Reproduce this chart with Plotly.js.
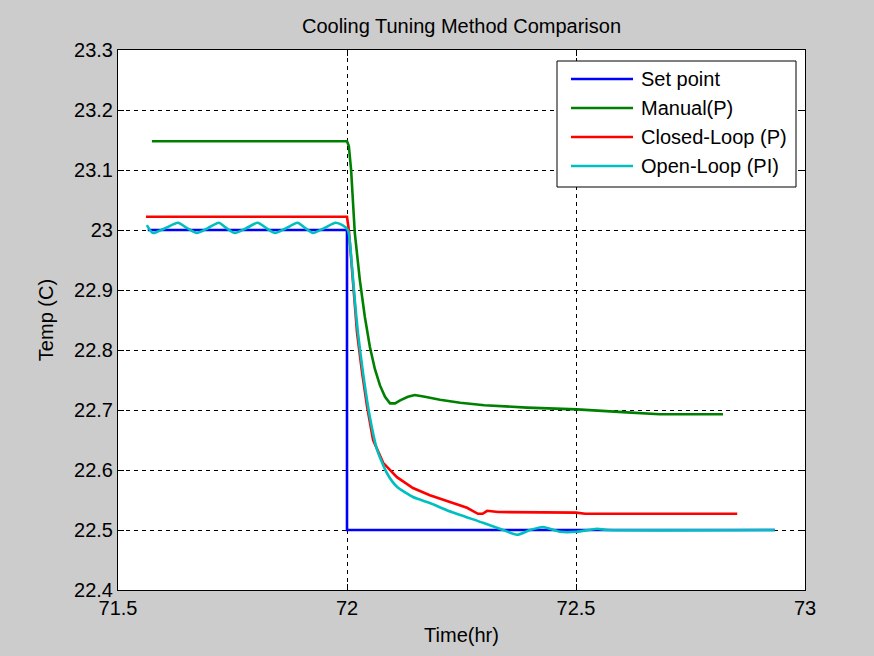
<!DOCTYPE html>
<html>
<head>
<meta charset="utf-8">
<script src="https://cdn.plot.ly/plotly-3.0.1.min.js"></script>
<style>html,body{margin:0;padding:0;background:#cccccc;}#chart{width:874px;height:656px;}</style>
</head>
<body>
<div id="chart"></div>
<script>
// ---- data ----
const seriesNames = ["Set point", "Manual(P)", "Closed-Loop (P)", "Open-Loop (PI)"];
const seriesColors = ["#0000ff", "#008000", "#ff0000", "#00bfbf"];

const setX = [71.565, 72.0, 72.0, 72.934];
const setY = [23.0, 23.0, 22.5, 22.5];

const manX = [71.574, 72.0, 72.004, 72.009, 72.017, 72.028, 72.039, 72.05, 72.061, 72.072, 72.083, 72.094, 72.105, 72.116, 72.133, 72.148, 72.17, 72.203, 72.247, 72.3, 72.393, 72.502, 72.611, 72.683, 72.821];
const manY = [23.148, 23.148, 23.14, 23.1, 22.995, 22.917, 22.855, 22.805, 22.768, 22.741, 22.722, 22.711, 22.711, 22.716, 22.722, 22.725, 22.722, 22.717, 22.712, 22.708, 22.704, 22.701, 22.696, 22.693, 22.693];

const clX = [71.561, 72.0, 72.004, 72.013, 72.022, 72.033, 72.044, 72.057, 72.079, 72.109, 72.144, 72.181, 72.225, 72.262, 72.286, 72.296, 72.306, 72.33, 72.5, 72.52, 72.852];
const clY = [23.022, 23.022, 23.0, 22.912, 22.828, 22.762, 22.705, 22.65, 22.612, 22.588, 22.57, 22.558, 22.547, 22.537, 22.527, 22.527, 22.532, 22.53, 22.529, 22.527, 22.527];

const olX = [71.563, 71.576, 71.603, 71.631, 71.651, 71.672, 71.696, 71.72, 71.737, 71.755, 71.78, 71.805, 71.824, 71.843, 71.867, 71.892, 71.909, 71.926, 71.95, 71.975, 71.99, 72.002, 72.011, 72.017, 72.024, 72.035, 72.05, 72.066, 72.087, 72.109, 72.144, 72.181, 72.218, 72.297, 72.341, 72.371, 72.4, 72.428, 72.465, 72.502, 72.546, 72.57, 72.934];
const olY = [23.008, 22.995, 23.003, 23.012, 23.003, 22.995, 23.003, 23.012, 23.003, 22.995, 23.003, 23.012, 23.003, 22.995, 23.003, 23.012, 23.003, 22.995, 23.003, 23.012, 23.008, 23.0, 22.938, 22.883, 22.828, 22.762, 22.688, 22.633, 22.595, 22.572, 22.555, 22.545, 22.533, 22.512, 22.5, 22.492, 22.5, 22.505, 22.497, 22.497, 22.502, 22.5, 22.5];

const xTickVals = [71.5, 72, 72.5, 73];
const xTickText = ["71.5", "72", "72.5", "73"];
const yTickVals = [22.4, 22.5, 22.6, 22.7, 22.8, 22.9, 23.0, 23.1, 23.2, 23.3];
const yTickText = ["22.4", "22.5", "22.6", "22.7", "22.8", "22.9", "23", "23.1", "23.2", "23.3"];

const xs = [setX, manX, clX, olX];
const ys = [setY, manY, clY, olY];

const FONT = "Liberation Sans, Arial, sans-serif";

const traces = xs.map((x, i) => ({
  x: x, y: ys[i], type: "scatter", mode: "lines", name: seriesNames[i],
  line: {color: seriesColors[i], width: 2.6, shape: i === 3 ? "spline" : "linear", smoothing: 0.6},
  showlegend: false, hoverinfo: "skip"
}));

// custom legend (MATLAB style box) in paper coordinates
const L = 118, R = 805, T = 50, B = 590;
const px = v => (v - L) / (R - L);
const py = v => (B - v) / (B - T);
const shapes = [{type: "rect", xref: "paper", yref: "paper", x0: px(557), x1: px(796), y0: py(187), y1: py(61),
  line: {color: "#000", width: 1}, fillcolor: "#ffffff", layer: "above"}];
const annotations = [];
const rowY = [79, 108, 137, 166];
seriesNames.forEach((n, i) => {
  shapes.push({type: "line", xref: "paper", yref: "paper", x0: px(571), x1: px(633), y0: py(rowY[i]), y1: py(rowY[i]),
    line: {color: seriesColors[i], width: 2.6}, layer: "above"});
  annotations.push({xref: "paper", yref: "paper", x: px(639), y: py(rowY[i]), xanchor: "left", yanchor: "middle",
    text: n, showarrow: false, font: {family: FONT, size: 20, color: "#000"}});
});

const axisCommon = {
  showline: true, mirror: "all", linecolor: "#000", linewidth: 1,
  ticks: "inside", ticklen: 6, tickcolor: "#000",
  showgrid: true, gridcolor: "#000", gridwidth: 1, griddash: "4px,4px",
  zeroline: false, tickfont: {family: FONT, size: 20, color: "#000"}, fixedrange: true
};

const layout = {
  width: 874, height: 656,
  margin: {l: L, r: 874 - R, t: T, b: 656 - B},
  paper_bgcolor: "#cccccc", plot_bgcolor: "#ffffff",
  title: {text: "Cooling Tuning Method Comparison", font: {family: FONT, size: 20, color: "#000"},
    x: 0.5, xref: "paper", y: 1 - 26 / 656, yref: "container", yanchor: "middle"},
  xaxis: Object.assign({}, axisCommon, {range: [71.5, 73], tickmode: "array", tickvals: xTickVals, ticktext: xTickText,
    title: {text: "Time(hr)", font: {family: FONT, size: 20, color: "#000"}, standoff: 9}}),
  yaxis: Object.assign({}, axisCommon, {range: [22.4, 23.3], tickmode: "array", tickvals: yTickVals, ticktext: yTickText,
    title: {text: "Temp (C)", font: {family: FONT, size: 20, color: "#000"}, standoff: 15}}),
  shapes: shapes, annotations: annotations, showlegend: false
};

Plotly.newPlot("chart", traces, layout, {staticPlot: true, displayModeBar: false});
</script>
</body>
</html>
